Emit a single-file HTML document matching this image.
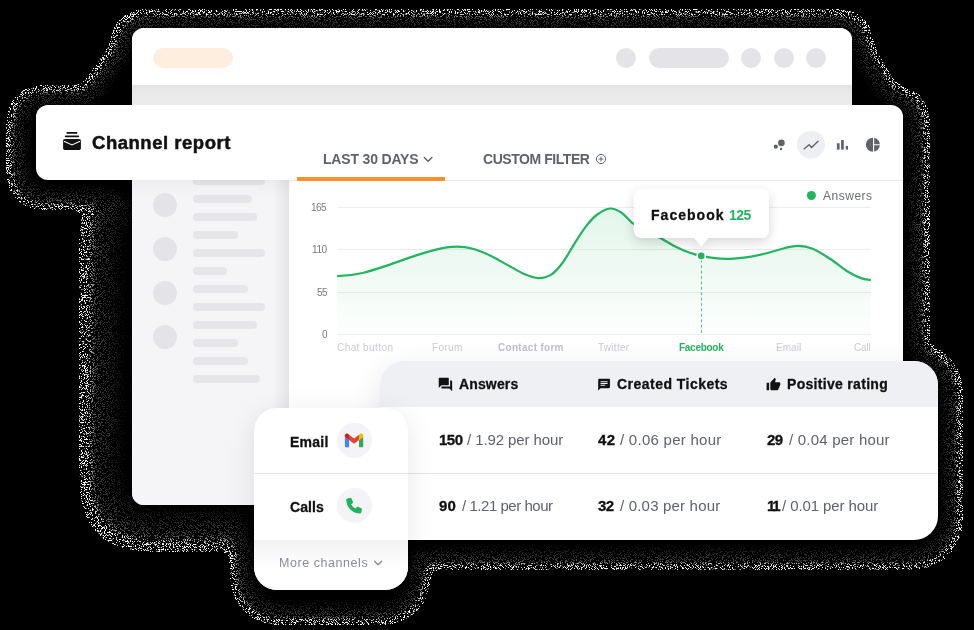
<!DOCTYPE html>
<html>
<head>
<meta charset="utf-8">
<title>Channel report</title>
<style>
html,body{margin:0;padding:0;background:#000;}
body{width:974px;height:630px;overflow:hidden;position:relative;font-family:"Liberation Sans",sans-serif;}
.abs{position:absolute;}
.t{position:absolute;white-space:nowrap;line-height:1;will-change:transform;}
/* back window */
#win{left:132px;top:28px;width:720px;height:477px;border-radius:12px;background:#fff;overflow:hidden;}
#win .bar{left:0;top:0;width:720px;height:57px;background:#fff;}
#win .band{left:0;top:57px;width:720px;height:20px;background:linear-gradient(#e4e4e6,#efeff0);}
#win .sshade{left:141px;top:77px;width:16px;height:400px;background:linear-gradient(to right,rgba(0,0,0,0),rgba(0,0,0,.065));}
#win .side{left:0;top:77px;width:157px;height:400px;background:#f5f5f7;}
.pill{position:absolute;background:#e4e4e8;border-radius:10px;}
.sb{position:absolute;left:61px;height:8px;border-radius:4px;background:#e6e6ea;}
.sc{position:absolute;left:21px;width:24px;height:24px;border-radius:12px;background:#e4e4e8;}
/* header card + chart panel */
#head{left:36px;top:105px;width:867px;height:75px;border-radius:12px 12px 0 12px;background:#fff;box-shadow:0 4px 16px rgba(0,0,0,.06);}
#panel{left:290px;top:180px;width:613px;height:220px;background:#fff;}
/* table card */
#table{left:380px;top:361px;width:558px;height:179px;border-radius:24px;background:#fff;overflow:hidden;box-shadow:0 8px 30px rgba(0,0,0,.10);}
#table .th{left:0;top:0;width:558px;height:46px;background:#eef0f4;}
#table .hr{left:0;top:112px;width:558px;height:1px;background:#e3e4e8;}
/* channel card */
#chan{left:254px;top:407.5px;width:154px;height:182.5px;border-radius:23px;background:#fff;overflow:hidden;box-shadow:0 6px 28px rgba(0,0,0,.10);}
#chan .hr{left:0;top:65.5px;width:154px;height:1px;background:#e3e4e8;}
#chan .more{left:0;top:132.5px;width:154px;height:50px;background:linear-gradient(#f1f1f3,#fbfbfc 35%,#fff 60%);}
.ic{position:absolute;width:35px;height:35px;border-radius:50%;background:#f4f4f7;}
</style>
</head>
<body>
<svg class="abs" style="left:0;top:0" width="974" height="630" viewBox="0 0 974 630">
  <defs>
    <filter id="speck" x="0" y="0" width="974" height="630" filterUnits="userSpaceOnUse" color-interpolation-filters="sRGB">
      <feColorMatrix in="SourceGraphic" type="matrix" values="0 0 0 0 0  0 0 0 0 0  0 0 0 0 0  1 0 0 0 0" result="ra"/>
      <feGaussianBlur in="ra" stdDeviation="18" result="rb"/>
      <feColorMatrix in="SourceGraphic" type="matrix" values="0 0 0 0 0  0 0 0 0 0  0 0 0 0 0  0 0 1 0 0" result="ba"/>
      <feGaussianBlur in="ba" stdDeviation="10" result="bb"/>
      <feComposite in="rb" in2="bb" operator="arithmetic" k1="0" k2="1" k3="1" k4="0" result="blur"/>
      <feComponentTransfer in="blur" result="w">
        <feFuncA type="discrete" tableValues="0 1 1 0.9 0.7 0.5 0.36 0.3 0.27 0.25 0.23 0.22 0.21 0.2 0.19 0.18 0.17 0.16 0.15 0.14 0.13 0.12 0.11 0.1 0.09 0.08 0.07 0.06 0.05 0.04 0.03 0.02 0.01 0 0 0 0 0 0 0"/>
      </feComponentTransfer>
      <feTurbulence type="fractalNoise" baseFrequency="1.37" numOctaves="1" seed="7" result="noise"/>
      <feColorMatrix in="noise" type="matrix" values="0 0 0 0 1  0 0 0 0 1  0 0 0 0 1  16 0 0 0 -8.6" result="dots"/>
      <feComposite in="dots" in2="w" operator="in"/>
    </filter>
  </defs>
  <g filter="url(#speck)">
    <g fill="#00f">
      <rect x="129" y="27.5" width="726" height="300" rx="12"/>
      <path d="M129 50 L129 110 L88 110 Z"/>
      <path d="M855 51 L912 146 L855 146 Z"/>
      <rect x="24.5" y="103" width="887.5" height="89" rx="16"/>
      <rect x="300" y="103" width="612" height="292" rx="16"/>
      <rect x="400" y="360" width="545" height="192" rx="32"/>
      <rect x="248" y="420" width="165" height="187" rx="30"/>
    </g>
    <rect x="112" y="200" width="308" height="319" rx="25" fill="#f00"/>
  </g>
</svg>


<!-- BACK WINDOW -->
<div id="win" class="abs">
  <div class="bar abs"></div>
  <div class="band abs"></div>
  <div class="side abs"></div>
  <div class="sshade abs"></div>
  <div class="pill" style="left:21px;top:20px;width:80px;height:20px;background:#feeee0;"></div>
  <div class="pill" style="left:484px;top:20px;width:20px;height:20px;"></div>
  <div class="pill" style="left:517px;top:20px;width:80px;height:20px;"></div>
  <div class="pill" style="left:609px;top:20px;width:20px;height:20px;"></div>
  <div class="pill" style="left:642px;top:20px;width:20px;height:20px;"></div>
  <div class="pill" style="left:674px;top:20px;width:20px;height:20px;"></div>
  <!-- sidebar rows -->
  <div class="sc" style="top:165px"></div>
  <div class="sc" style="top:209px"></div>
  <div class="sc" style="top:253px"></div>
  <div class="sc" style="top:297px"></div>
  <div class="sb" style="top:149px;width:72px"></div>
  <div class="sb" style="top:167px;width:59px"></div>
  <div class="sb" style="top:185px;width:64px"></div>
  <div class="sb" style="top:203px;width:45px"></div>
  <div class="sb" style="top:221px;width:72px"></div>
  <div class="sb" style="top:239px;width:34px"></div>
  <div class="sb" style="top:257px;width:55px"></div>
  <div class="sb" style="top:275px;width:72px"></div>
  <div class="sb" style="top:293px;width:64px"></div>
  <div class="sb" style="top:311px;width:45px"></div>
  <div class="sb" style="top:329px;width:55px"></div>
  <div class="sb" style="top:347px;width:67px"></div>
</div>

<!-- HEADER CARD -->
<div id="head" class="abs"></div>
<!-- CHART PANEL -->
<div id="panel" class="abs"></div>
<svg class="abs" style="left:0;top:0" width="974" height="630" viewBox="0 0 974 630">
  <defs>
    <linearGradient id="ga" x1="0" y1="0" x2="0" y2="1">
      <stop offset="0" stop-color="#22b45f" stop-opacity=".13"/>
      <stop offset="1" stop-color="#22b45f" stop-opacity=".01"/>
    </linearGradient>
    <filter id="tts" x="-20%" y="-30%" width="140%" height="180%">
      <feGaussianBlur in="SourceAlpha" stdDeviation="6"/>
      <feOffset dy="4"/>
      <feComponentTransfer><feFuncA type="linear" slope=".16"/></feComponentTransfer>
      <feMerge><feMergeNode/><feMergeNode in="SourceGraphic"/></feMerge>
    </filter>
  </defs>
  <!-- tab line + active underline -->
  <rect x="290" y="180" width="613" height="1" fill="#e6e7ec"/>
  <rect x="297" y="177" width="148" height="4" fill="#f8912a"/>
  <!-- chevron, circle plus -->
  <path d="M424.3 157.4 L428.1 161.3 L431.9 157.4" fill="none" stroke="#5f6368" stroke-width="1.4" stroke-linecap="round" stroke-linejoin="round"/>
  <g fill="none" stroke="#5f6368" stroke-width="1">
    <circle cx="601" cy="159" r="4.6"/>
    <path d="M598.6 159 H603.4 M601 156.6 V161.4"/>
  </g>
  <!-- toolbar icons -->
  <g fill="#5f6368">
    <circle cx="781.4" cy="142.9" r="3.3"/>
    <circle cx="775.8" cy="146.7" r="2.1"/>
    <circle cx="781" cy="149" r="1.2"/>
    <circle cx="811" cy="144.7" r="14" fill="#eeeff3"/>
    <path d="M804.2 148.7 L809.1 144.7 L811.6 147.4 L818 141.3" fill="none" stroke="#5f6368" stroke-width="1.4" stroke-linecap="round" stroke-linejoin="round"/>
    <rect x="836.9" y="143.2" width="2.7" height="6.4"/>
    <rect x="841.1" y="140" width="2.7" height="9.6"/>
    <rect x="845.7" y="145.9" width="2.3" height="3.7"/>
    <circle cx="872.9" cy="144.7" r="7"/>
    <path d="M873.6 137 V152.5 M873.6 144.7 H881" stroke="#fff" stroke-width="1.1" fill="none"/>
  </g>
  <!-- legend -->
  <circle cx="811.4" cy="195.5" r="4.5" fill="#22b45f"/>
  <!-- grid -->
  <g stroke="#ececf0" stroke-width="1">
    <path d="M337.5 207.5H871M337.5 249.5H871M337.5 292.5H871M337.5 334.5H871"/>
  </g>
  <!-- area -->
  <path id="area" fill="url(#ga)" d="M337.2 276.1 C356 276.1 371 270.9 387.5 265.4 C396.5 262.4 407.6 258.2 416.2 255.4 C424.8 252.6 432.5 250.2 439.2 248.8 C445.9 247.4 450.8 246.7 456.5 246.7 C462.2 246.7 467.9 247.5 473.7 249.0 C479.4 250.5 485.2 253.2 491.0 255.9 C496.8 258.6 502.4 262.3 508.2 265.4 C514.0 268.5 520.5 272.5 525.5 274.6 C530.5 276.7 534.1 278.1 538.4 278.1 C542.7 278.1 547.2 277.2 551.3 274.6 C555.4 272.0 559.0 267.6 562.8 262.5 C566.6 257.4 570.5 249.9 574.3 243.9 C578.1 237.9 582.0 231.5 585.8 226.6 C589.6 221.7 593.3 217.5 597.3 214.5 C601.3 211.5 606.0 208.8 610.0 208.5 C614.0 208.2 618.0 210.5 621.6 212.8 C625.2 215.1 627.7 219.3 631.6 222.3 C635.5 225.3 640.2 228.4 645.0 231.0 C649.8 233.6 655.4 235.6 660.4 238.1 C665.4 240.6 669.9 243.8 674.7 246.2 C679.5 248.6 684.7 250.9 689.1 252.5 C693.5 254.1 696.9 255.0 701.2 255.9 C705.5 256.9 710.3 257.7 715.0 258.2 C719.7 258.7 723.5 259.0 729.3 258.8 C735.0 258.6 743.3 257.7 749.5 256.8 C755.7 255.9 761.0 254.7 766.7 253.3 C772.5 251.9 778.7 249.4 784.0 248.2 C789.3 247.0 793.5 245.8 798.3 245.9 C803.1 246.0 807.4 246.7 812.7 248.8 C818.0 251.0 824.2 255.1 830.0 258.8 C835.8 262.5 841.9 267.9 847.2 271.2 C852.5 274.5 857.7 276.9 861.6 278.4 C865.5 279.9 867.7 279.5 870.8 280.1 L870.8 334 L337.2 334 Z"/>
  <path fill="none" stroke="#22b45f" stroke-width="2.2" stroke-linecap="butt" stroke-linejoin="round" d="M337.2 276.1 C356 276.1 371 270.9 387.5 265.4 C396.5 262.4 407.6 258.2 416.2 255.4 C424.8 252.6 432.5 250.2 439.2 248.8 C445.9 247.4 450.8 246.7 456.5 246.7 C462.2 246.7 467.9 247.5 473.7 249.0 C479.4 250.5 485.2 253.2 491.0 255.9 C496.8 258.6 502.4 262.3 508.2 265.4 C514.0 268.5 520.5 272.5 525.5 274.6 C530.5 276.7 534.1 278.1 538.4 278.1 C542.7 278.1 547.2 277.2 551.3 274.6 C555.4 272.0 559.0 267.6 562.8 262.5 C566.6 257.4 570.5 249.9 574.3 243.9 C578.1 237.9 582.0 231.5 585.8 226.6 C589.6 221.7 593.3 217.5 597.3 214.5 C601.3 211.5 606.0 208.8 610.0 208.5 C614.0 208.2 618.0 210.5 621.6 212.8 C625.2 215.1 627.7 219.3 631.6 222.3 C635.5 225.3 640.2 228.4 645.0 231.0 C649.8 233.6 655.4 235.6 660.4 238.1 C665.4 240.6 669.9 243.8 674.7 246.2 C679.5 248.6 684.7 250.9 689.1 252.5 C693.5 254.1 696.9 255.0 701.2 255.9 C705.5 256.9 710.3 257.7 715.0 258.2 C719.7 258.7 723.5 259.0 729.3 258.8 C735.0 258.6 743.3 257.7 749.5 256.8 C755.7 255.9 761.0 254.7 766.7 253.3 C772.5 251.9 778.7 249.4 784.0 248.2 C789.3 247.0 793.5 245.8 798.3 245.9 C803.1 246.0 807.4 246.7 812.7 248.8 C818.0 251.0 824.2 255.1 830.0 258.8 C835.8 262.5 841.9 267.9 847.2 271.2 C852.5 274.5 857.7 276.9 861.6 278.4 C865.5 279.9 867.7 279.5 870.8 280.1"/>
  <!-- dashed marker line -->
  <path d="M701.5 260 V334" stroke="#22b45f" stroke-width="1" stroke-dasharray="2.6 2.8" stroke-opacity=".85" fill="none"/>
  <circle cx="701.2" cy="255.9" r="4.8" fill="#fff"/>
  <circle cx="701.2" cy="255.9" r="3.3" fill="#22b45f"/>
  <!-- tooltip -->
  <path filter="url(#tts)" fill="#fff" d="M641.9 188.7 H761 a8 8 0 0 1 8 8 V230.1 a8 8 0 0 1 -8 8 H708 L701.2 246.6 L694.4 238.1 H641.9 a8 8 0 0 1 -8 -8 V196.7 a8 8 0 0 1 8 -8 Z"/>
  <!-- header icon -->
  <g fill="#111">
    <rect x="66.5" y="132.1" width="10.9" height="1.6" rx=".6"/>
    <rect x="64.9" y="135.5" width="14.2" height="1.7" rx=".6"/>
    <rect x="63.1" y="139.1" width="17.8" height="10.8" rx="1.6"/>
    <path d="M64 141.3 L72 145 L80 141.3" stroke="#fff" stroke-width="1.1" fill="none"/>
  </g>
</svg>

<span class="t" style="left:92.05px;top:133.54px;font-size:18.5px;font-weight:700;color:#111111;letter-spacing:0.522px;-webkit-text-stroke:0.5px #111111">Channel report</span>
<span class="t" style="left:323.20px;top:152.15px;font-size:14px;font-weight:700;color:#5f6368;letter-spacing:-0.180px">LAST 30 DAYS</span>
<span class="t" style="left:483.00px;top:152.15px;font-size:14px;font-weight:700;color:#5f6368;letter-spacing:-0.445px">CUSTOM FILTER</span>
<span class="t" style="left:822.60px;top:189.74px;font-size:12px;font-weight:400;color:#6b6e72;letter-spacing:0.514px">Answers</span>
<span class="t" style="left:311.20px;top:203.34px;font-size:10px;font-weight:400;color:#77797e;letter-spacing:-0.500px">165</span>
<span class="t" style="left:311.70px;top:245.34px;font-size:10px;font-weight:400;color:#77797e;letter-spacing:-0.390px">110</span>
<span class="t" style="left:316.70px;top:287.84px;font-size:10px;font-weight:400;color:#77797e;letter-spacing:-0.500px">55</span>
<span class="t" style="left:322.20px;top:330.34px;font-size:10px;font-weight:400;color:#77797e;letter-spacing:0.000px">0</span>
<span class="t" style="left:337.10px;top:342.54px;font-size:10px;font-weight:400;color:#cbcbcf;letter-spacing:0.426px">Chat button</span>
<span class="t" style="left:432.30px;top:342.54px;font-size:10px;font-weight:400;color:#cbcbcf;letter-spacing:0.335px">Forum</span>
<span class="t" style="left:498.10px;top:342.54px;font-size:10px;font-weight:700;color:#c0c0c5;letter-spacing:0.297px">Contact form</span>
<span class="t" style="left:598.30px;top:342.54px;font-size:10px;font-weight:400;color:#cbcbcf;letter-spacing:0.280px">Twitter</span>
<span class="t" style="left:678.50px;top:342.54px;font-size:10px;font-weight:700;color:#22b45f;letter-spacing:-0.274px">Facebook</span>
<span class="t" style="left:775.50px;top:342.54px;font-size:10px;font-weight:400;color:#cbcbcf;letter-spacing:0.029px">Email</span>
<span class="t" style="left:854.20px;top:342.54px;font-size:10px;font-weight:400;color:#cbcbcf;letter-spacing:-0.168px">Call</span>
<span class="t" style="left:650.95px;top:208.15px;font-size:14px;font-weight:700;color:#111111;letter-spacing:1.019px;-webkit-text-stroke:0.3px #111111">Facebook</span>
<span class="t" style="left:729.00px;top:208.15px;font-size:14px;font-weight:700;color:#22b45f;letter-spacing:-0.500px">125</span>

<!-- TABLE CARD -->
<div id="table" class="abs">
  <div class="th abs"></div>
  <div class="hr abs"></div>
</div>
<span class="t" style="left:458.65px;top:376.95px;font-size:14px;font-weight:700;color:#111111;letter-spacing:0.138px;-webkit-text-stroke:0.3px #111111">Answers</span>
<span class="t" style="left:617.35px;top:376.95px;font-size:14px;font-weight:700;color:#111111;letter-spacing:0.469px;-webkit-text-stroke:0.3px #111111">Created Tickets</span>
<span class="t" style="left:786.65px;top:376.95px;font-size:14px;font-weight:700;color:#111111;letter-spacing:0.306px;-webkit-text-stroke:0.3px #111111">Positive rating</span>
<span class="t" style="left:439.35px;top:431.60px;font-size:15px;font-weight:700;color:#111111;letter-spacing:-0.500px;-webkit-text-stroke:0.3px #111111">150</span>
<span class="t" style="left:466.80px;top:431.60px;font-size:15px;font-weight:400;color:#5f6368;letter-spacing:-0.098px">/ 1.92 per hour</span>
<span class="t" style="left:598.15px;top:431.60px;font-size:15px;font-weight:700;color:#111111;letter-spacing:0.358px;-webkit-text-stroke:0.3px #111111">42</span>
<span class="t" style="left:620.00px;top:431.60px;font-size:15px;font-weight:400;color:#5f6368;letter-spacing:0.266px">/ 0.06 per hour</span>
<span class="t" style="left:767.45px;top:431.60px;font-size:15px;font-weight:700;color:#111111;letter-spacing:-0.500px;-webkit-text-stroke:0.3px #111111">29</span>
<span class="t" style="left:788.60px;top:431.60px;font-size:15px;font-weight:400;color:#5f6368;letter-spacing:0.216px">/ 0.04 per hour</span>
<span class="t" style="left:439.35px;top:497.60px;font-size:15px;font-weight:700;color:#111111;letter-spacing:0.158px;-webkit-text-stroke:0.3px #111111">90</span>
<span class="t" style="left:462.40px;top:497.60px;font-size:15px;font-weight:400;color:#5f6368;letter-spacing:-0.462px">/ 1.21 per hour</span>
<span class="t" style="left:598.15px;top:497.60px;font-size:15px;font-weight:700;color:#111111;letter-spacing:-0.500px;-webkit-text-stroke:0.3px #111111">32</span>
<span class="t" style="left:619.50px;top:497.60px;font-size:15px;font-weight:400;color:#5f6368;letter-spacing:0.188px">/ 0.03 per hour</span>
<span class="t" style="left:767.45px;top:497.60px;font-size:15px;font-weight:700;color:#111111;letter-spacing:-2.300px;-webkit-text-stroke:0.3px #111111">11</span>
<span class="t" style="left:782.20px;top:497.60px;font-size:15px;font-weight:400;color:#5f6368;letter-spacing:-0.098px">/ 0.01 per hour</span>

<!-- CHANNEL CARD -->
<div id="chan" class="abs">
  <div class="hr abs"></div>
  <div class="more abs"></div>
  <div class="ic" style="left:82.5px;top:15.5px"></div>
  <div class="ic" style="left:82.5px;top:80.5px"></div>
</div>
<span class="t" style="left:289.95px;top:435.15px;font-size:14px;font-weight:700;color:#111111;letter-spacing:0.235px;-webkit-text-stroke:0.3px #111111">Email</span>
<span class="t" style="left:289.95px;top:500.15px;font-size:14px;font-weight:700;color:#111111;letter-spacing:0.056px;-webkit-text-stroke:0.3px #111111">Calls</span>
<span class="t" style="left:279.30px;top:556.92px;font-size:12.5px;font-weight:400;color:#8a8c98;letter-spacing:0.555px">More channels</span>
<svg class="abs" style="left:0;top:0" width="974" height="630" viewBox="0 0 974 630">
  <!-- question_answer -->
  <g transform="translate(437.4 376.5) scale(.67)" fill="#111"><path d="M21 6h-2v9H6v2c0 .55.45 1 1 1h11l4 4V7c0-.55-.45-1-1-1zm-4 6V3c0-.55-.45-1-1-1H3c-.55 0-1 .45-1 1v14l4-4h10c.55 0 1-.45 1-1z"/></g>
  <!-- chat -->
  <g transform="translate(597 377.6) scale(.59)" fill="#111"><path d="M20 2H4c-1.1 0-1.99.9-1.99 2L2 22l4-4h14c1.1 0 2-.9 2-2V4c0-1.1-.9-2-2-2zM6 9h12v2H6V9zm8 5H6v-2h8v2zm4-6H6V6h12v2z"/></g>
  <!-- thumb up -->
  <g transform="translate(766 377.2) scale(.62)" fill="#111"><path d="M1 21h4V9H1v12zm22-11c0-1.1-.9-2-2-2h-6.310l.95-4.570.03-.32c0-.41-.17-.79-.44-1.060L14.170 1 7.590 7.590C7.220 7.950 7 8.450 7 9v10c0 1.100.9 2 2 2h9c.83 0 1.540-.5 1.840-1.220l3.020-7.050c.09-.23.14-.47.14-.73v-2z"/></g>
  <!-- gmail -->
  <g transform="translate(344.9 433.4) scale(.0715)">
    <path fill="#4285F4" d="M58.182 192.05V93.14L27.507 65.077 0 49.504v125.091c0 9.658 7.825 17.455 17.455 17.455h40.727z"/>
    <path fill="#34A853" d="M197.818 192.05h40.727c9.659 0 17.455-7.826 17.455-17.455V49.505l-31.156 17.837-27.026 25.798v98.91z"/>
    <path fill="#EA4335" d="M58.182 93.14l-4.174-38.647 4.174-36.989L128 69.868l69.818-52.364 4.669 34.992-4.669 40.644L128 145.504z"/>
    <path fill="#FBBC04" d="M197.818 17.504V93.14L256 49.504V26.231c0-21.585-24.64-33.89-41.89-20.945l-16.292 12.218z"/>
    <path fill="#C5221F" d="M0 49.504l26.759 20.07L58.182 93.14V17.504L41.89 5.286C24.61-7.66 0 4.646 0 26.23v23.273z"/>
  </g>
  <!-- phone -->
  <g transform="translate(346.8 498.4) scale(.0285)" fill="#1fb35c" stroke="#1fb35c" stroke-width="36" stroke-linejoin="round"><path d="M497.39 361.8l-112-48a24 24 0 0 0-28 6.900l-49.600 60.600A370.660 370.660 0 0 1 130.600 204.110l60.600-49.600a23.940 23.940 0 0 0 6.900-28l-48-112A24.160 24.160 0 0 0 122.600.610l-104 24A24 24 0 0 0 0 48c0 256.500 207.900 464 464 464a24 24 0 0 0 23.400-18.600l24-104a24.290 24.290 0 0 0-14.010-27.600z"/></g>
  <!-- more chevron -->
  <path d="M374.6 561.3 L378.1 564.8 L381.6 561.3" fill="none" stroke="#8a8c98" stroke-width="1.4" stroke-linecap="round" stroke-linejoin="round"/>
</svg>


</body>
</html>
